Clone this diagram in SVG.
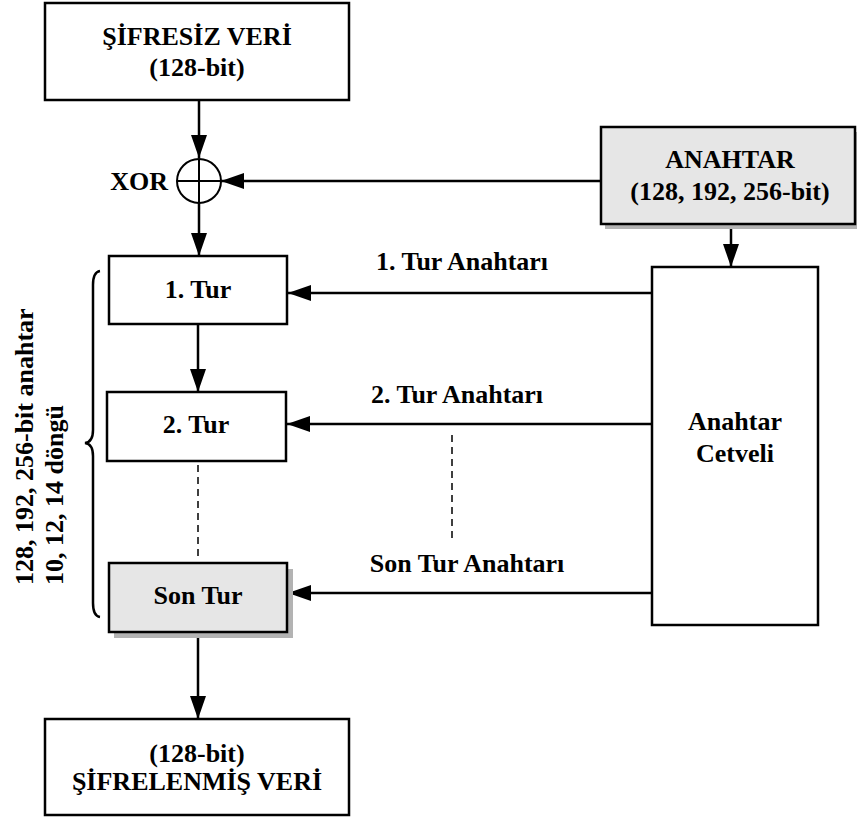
<svg xmlns="http://www.w3.org/2000/svg" width="857" height="818" viewBox="0 0 857 818">
<defs>
<style>
text{font-family:'Liberation Serif','Times New Roman',Times,'DejaVu Serif',serif;font-weight:700;font-size:26px;fill:#000}
.box{fill:#fff;stroke:#000;stroke-width:2.5}
.gbox{fill:#e6e6e6;stroke:#000;stroke-width:2.5}
.shadow{fill:#b3b3b3;stroke:none}
.ln{fill:none;stroke:#000;stroke-width:2.5}
.dash{fill:none;stroke:#000;stroke-width:1.5;stroke-dasharray:7,5}
.c{text-anchor:middle}
</style>
<marker id="ah" viewBox="0 0 23 16" refX="23" refY="8" markerWidth="23" markerHeight="16" markerUnits="userSpaceOnUse" orient="auto">
<path d="M0,0 L23,8 L0,16 Z" fill="#000"/>
</marker>
</defs>
<g id="connectors">
<line class="ln" x1="199" y1="100" x2="199" y2="158" marker-end="url(#ah)"/>
<line class="ln" x1="600" y1="181" x2="221" y2="181" marker-end="url(#ah)"/>
<line class="ln" x1="199" y1="203" x2="199" y2="256" marker-end="url(#ah)"/>
<line class="ln" x1="731" y1="224" x2="731" y2="267" marker-end="url(#ah)"/>
<line class="ln" x1="198" y1="324" x2="198" y2="392" marker-end="url(#ah)"/>
<line class="dash" x1="198" y1="465" x2="198" y2="556"/>
<line class="ln" x1="198" y1="632" x2="198" y2="719" marker-end="url(#ah)"/>
<line class="ln" x1="652" y1="293" x2="288" y2="293" marker-end="url(#ah)"/>
<line class="ln" x1="652" y1="424" x2="287" y2="424" marker-end="url(#ah)"/>
<line class="ln" x1="652" y1="593" x2="288" y2="593" marker-end="url(#ah)"/>
<line class="dash" x1="452" y1="435" x2="452" y2="540"/>
<text x="462" y="270" class="c">1. Tur Anahtarı</text>
<text x="457" y="403" class="c">2. Tur Anahtarı</text>
<text x="467" y="572" class="c">Son Tur Anahtarı</text>
</g>
<g id="plain">
<rect class="box" x="45" y="3" width="304" height="97"/>
<text x="197" y="45" class="c">ŞİFRESİZ VERİ</text>
<text x="197" y="76" class="c">(128-bit)</text>
</g>
<g id="xor">
<circle cx="199" cy="181" r="22" fill="#fff" stroke="#000" stroke-width="2"/>
<line x1="177" y1="181" x2="221" y2="181" stroke="#000" stroke-width="2"/>
<line x1="199" y1="159" x2="199" y2="203" stroke="#000" stroke-width="2"/>
<text x="168" y="190" text-anchor="end">XOR</text>
</g>
<g id="key">
<rect class="shadow" x="605" y="132" width="252" height="97"/>
<rect class="gbox" x="601" y="127" width="254" height="97"/>
<text x="730" y="168" class="c">ANAHTAR</text>
<text x="730" y="200" class="c">(128, 192, 256-bit)</text>
</g>
<g id="schedule">
<rect class="box" x="652" y="267" width="166" height="358"/>
<text x="735" y="430" class="c">Anahtar</text>
<text x="735" y="462" class="c">Cetveli</text>
</g>
<g id="round1">
<rect class="box" x="109" y="256" width="178" height="68"/>
<text x="198" y="298" class="c">1. Tur</text>
</g>
<g id="round2">
<rect class="box" x="107" y="392" width="179" height="69"/>
<text x="196" y="433" class="c">2. Tur</text>
</g>
<g id="roundLast">
<rect class="shadow" x="114" y="569" width="179" height="69"/>
<rect class="gbox" x="109" y="563" width="178" height="69"/>
<text x="198" y="604" class="c">Son Tur</text>
</g>
<g id="brace">
<path class="ln" stroke-width="1.8" d="M100,271 Q93,272 93,285 L93,430 Q93,442 85,443 Q93,444 93,456 L93,603 Q93,616 100,617"/>
<text transform="translate(33,585) rotate(-90)">128, 192, 256-bit anahtar</text>
<text transform="translate(63,585) rotate(-90)">10, 12, 14 döngü</text>
</g>
<g id="cipher">
<rect class="box" x="45" y="719" width="304" height="96"/>
<text x="197" y="762" class="c">(128-bit)</text>
<text x="197" y="790" class="c">ŞİFRELENMİŞ VERİ</text>
</g>
</svg>
